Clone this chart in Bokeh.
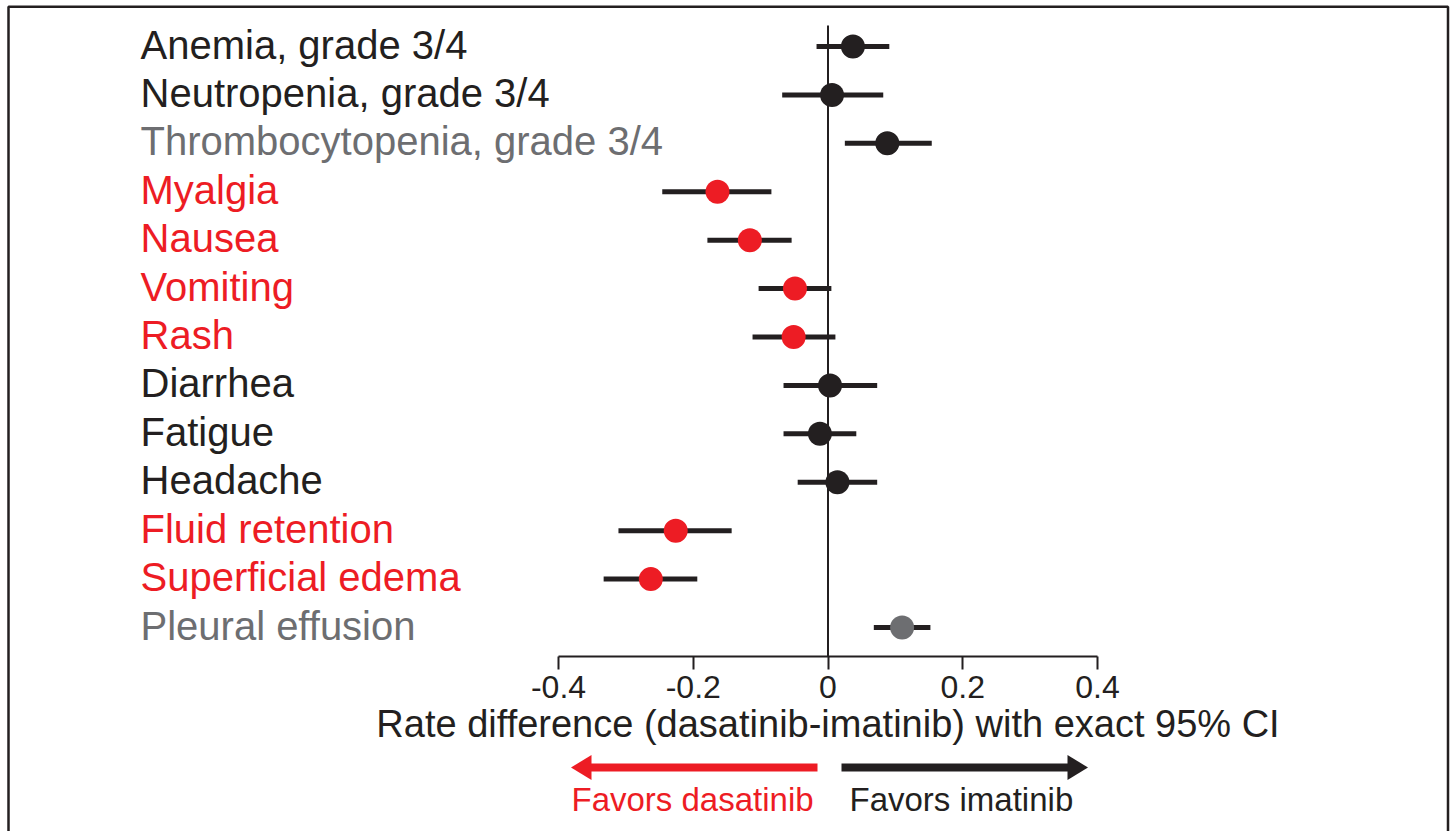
from bokeh.plotting import figure
from bokeh.models import Range1d, LinearAxis, FixedTicker
from bokeh.core.properties import value
from bokeh.embed import file_html
from bokeh.resources import INLINE

# ---------------- data ----------------
labels = [
    "Anemia, grade 3/4",
    "Neutropenia, grade 3/4",
    "Thrombocytopenia, grade 3/4",
    "Myalgia",
    "Nausea",
    "Vomiting",
    "Rash",
    "Diarrhea",
    "Fatigue",
    "Headache",
    "Fluid retention",
    "Superficial edema",
    "Pleural effusion",
]
estimate = [0.037, 0.006, 0.088, -0.164, -0.116, -0.049, -0.051, 0.003, -0.012, 0.014, -0.226, -0.263, 0.110]
ci_low = [-0.017, -0.068, 0.025, -0.246, -0.179, -0.103, -0.112, -0.066, -0.066, -0.045, -0.311, -0.333, 0.068]
ci_high = [0.091, 0.082, 0.154, -0.084, -0.054, 0.005, 0.011, 0.073, 0.042, 0.073, -0.143, -0.194, 0.152]
label_group = ["neutral", "neutral", "muted", "dasatinib", "dasatinib", "dasatinib", "dasatinib",
               "neutral", "neutral", "neutral", "dasatinib", "dasatinib", "muted"]
point_group = ["neutral", "neutral", "neutral", "dasatinib", "dasatinib", "dasatinib", "dasatinib",
               "neutral", "neutral", "neutral", "dasatinib", "dasatinib", "muted"]
tick_values = [-0.4, -0.2, 0, 0.2, 0.4]
tick_labels = ["-0.4", "-0.2", "0", "0.2", "0.4"]
axis_title = "Rate difference (dasatinib-imatinib) with exact 95% CI"
favors_left = "Favors dasatinib"
favors_right = "Favors imatinib"

# ---------------- styles ----------------
BLACK = "#231f20"
RED = "#ed1c24"
GREY = "#6d6e71"
group_color = {"neutral": BLACK, "dasatinib": RED, "muted": GREY}
FONT = value("Liberation Sans")

# ---------------- geometry (pixel layout -> data) ----------------
W, H = 1452, 831
X0_PX, PX_PER_UNIT = 827.5, 673.75
ROW0_PX, ROW_STEP = 46.0, 48.42


def X(px):
    return (px - X0_PX) / PX_PER_UNIT


def Y(px):
    return (px - ROW0_PX) / ROW_STEP


rows = list(range(len(labels)))
label_colors = [group_color[g] for g in label_group]
point_colors = [group_color[g] for g in point_group]

p = figure(
    width=W, height=H,
    x_range=Range1d(X(0), X(W)),
    y_range=Range1d(Y(H), Y(0)),
    x_axis_type=None, y_axis_type=None,
    toolbar_location=None, output_backend="svg",
    min_border=0, min_border_left=0, min_border_right=0,
    min_border_top=0, min_border_bottom=0,
    outline_line_color=None,
    background_fill_color="white", border_fill_color="white",
)

# outer frame (bottom edge runs off the page)
p.quad(left=[X(8)], right=[X(1447.5)], top=[Y(6.2)], bottom=[Y(850)],
       fill_color=None, line_color=BLACK, line_width=2.5)

# x axis placed inside the frame
ax = LinearAxis(
    fixed_location=Y(655.5),
    bounds=(-0.4, 0.4),
    ticker=FixedTicker(ticks=tick_values),
    major_label_overrides={t: s for t, s in zip(tick_values, tick_labels)},
    axis_label=axis_title,
)
ax.axis_line_color = BLACK
ax.axis_line_width = 2
ax.major_tick_line_color = BLACK
ax.major_tick_line_width = 2
ax.major_tick_in = 0
ax.major_tick_out = 13
ax.minor_tick_line_color = None
ax.major_label_text_font = "Liberation Sans"
ax.major_label_text_font_size = "32px"
ax.major_label_text_color = BLACK
ax.major_label_standoff = 7
ax.axis_label_text_font = "Liberation Sans"
ax.axis_label_text_font_size = "38px"
ax.axis_label_text_font_style = "normal"
ax.axis_label_text_color = BLACK
ax.axis_label_standoff = 1
p.add_layout(ax, "below")

# zero reference line
p.segment(x0=[0], y0=[Y(25)], x1=[0], y1=[Y(655.5)], line_color=BLACK, line_width=2)

# confidence intervals
p.segment(x0=ci_low, y0=rows, x1=ci_high, y1=rows, line_color=BLACK, line_width=5, line_cap="butt")

# point estimates
p.scatter(x=estimate, y=rows, size=24, fill_color=point_colors, line_color=None)

# row labels
p.text(x=[X(140)] * len(labels), y=rows, text=labels, text_color=label_colors,
       text_font=FONT, text_font_size="40px", text_align="left",
       text_baseline="alphabetic", y_offset=-2)

# favors arrows
ay = Y(767)
p.segment(x0=[X(817)], y0=[ay], x1=[X(589)], y1=[ay], line_color=RED, line_width=8, line_cap="butt")
p.patch(x=[X(570.5), X(591), X(591)], y=[ay, Y(754.5), Y(779.5)], fill_color=RED, line_color=None)
p.segment(x0=[X(841)], y0=[ay], x1=[X(1068)], y1=[ay], line_color=BLACK, line_width=8, line_cap="butt")
p.patch(x=[X(1087.5), X(1067), X(1067)], y=[ay, Y(754.5), Y(779.5)], fill_color=BLACK, line_color=None)

p.text(x=[X(571)], y=[Y(799)], text=[favors_left], text_color=RED, text_font=FONT,
       text_font_size="33px", text_align="left", text_baseline="alphabetic")
p.text(x=[X(849)], y=[Y(799)], text=[favors_right], text_color=BLACK, text_font=FONT,
       text_font_size="33px", text_align="left", text_baseline="alphabetic")

open("out.html", "w").write(file_html(p, INLINE))
